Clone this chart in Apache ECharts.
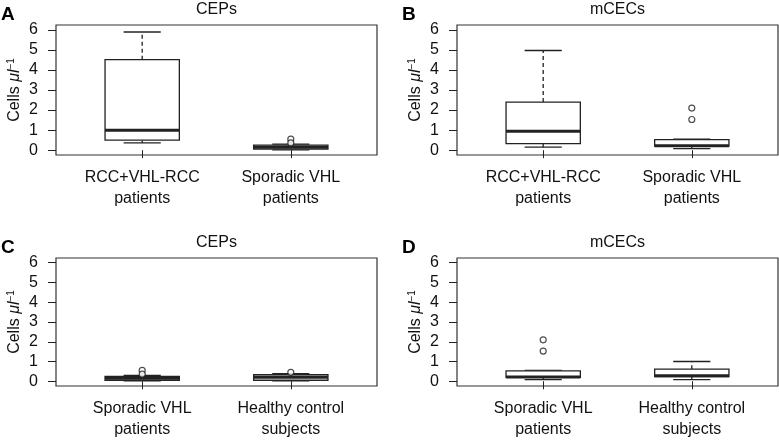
<!DOCTYPE html>
<html>
<head>
<meta charset="utf-8">
<script src="https://cdn.jsdelivr.net/npm/echarts@6/dist/echarts.min.js"></script>
<style>
  html, body { margin: 0; padding: 0; background: #fff; }
  #chart { width: 779px; height: 440px; }
</style>
</head>
<body>
<div id="chart"></div>
<script>
// category labels
const catsTop = ['RCC+VHL-RCC\npatients', 'Sporadic VHL\npatients']
const catsBottom = ['Sporadic VHL\npatients', 'Healthy control\nsubjects']

// box stats: [lower whisker, Q1, median, Q3, upper whisker]
const cepsPatients = [[0.36, 0.5, 0.99, 4.51, 5.89], [0.02, 0.05, 0.15, 0.25, 0.3]]
const mcecsPatients = [[0.15, 0.33, 0.95, 2.4, 4.97], [0.08, 0.2, 0.22, 0.53, 0.55]]
const cepsControl = [[0.02, 0.05, 0.15, 0.25, 0.3], [0.02, 0.05, 0.2, 0.33, 0.38]]
const mcecsControl = [[0.08, 0.2, 0.22, 0.53, 0.55], [0.08, 0.23, 0.28, 0.61, 1.0]]

// outliers per group
const cepsPatientsOut = [[], [0.55, 0.36]]
const mcecsPatientsOut = [[], [2.1, 1.53]]
const cepsControlOut = [[0.55, 0.36], [0.45]]
const mcecsControlOut = [[2.1, 1.53], []]

const yTicks = [0, 1, 2, 3, 4, 5, 6]

const panels = [
  { letter: 'A', title: 'CEPs', cats: catsTop, stats: cepsPatients, out: cepsPatientsOut, left: 56, top: 25, height: 130 },
  { letter: 'B', title: 'mCECs', cats: catsTop, stats: mcecsPatients, out: mcecsPatientsOut, left: 457, top: 25, height: 130 },
  { letter: 'C', title: 'CEPs', cats: catsBottom, stats: cepsControl, out: cepsControlOut, left: 56, top: 258, height: 131 },
  { letter: 'D', title: 'mCECs', cats: catsBottom, stats: mcecsControl, out: mcecsControlOut, left: 457, top: 258, height: 131 }
]

const FONT = 'Liberation Sans, Arial, Helvetica, sans-serif'
const INK = '#222'
const plotW = 321

const chart = echarts.init(document.getElementById('chart'))

// draws one box with whiskers
const renderBox = (params, api) => {
  const x = api.value(0)
  const lo = api.coord([x, api.value(1)])
  const q1 = api.coord([x, api.value(2)])
  const med = api.coord([x, api.value(3)])
  const q3 = api.coord([x, api.value(4)])
  const hi = api.coord([x, api.value(5)])
  const halfW = api.size([0.25, 0])[0]
  const capW = halfW / 2
  const cx = med[0]
  const line = (x1, y1, x2, y2, extra) => ({
    type: 'line',
    shape: { x1, y1, x2, y2 },
    style: Object.assign({ stroke: INK, lineWidth: 1.3 }, extra || {})
  })
  return {
    type: 'group',
    children: [
      line(cx, q3[1], cx, hi[1], { lineDash: [4, 3] }),
      line(cx, q1[1], cx, lo[1], { lineDash: [4, 3] }),
      line(cx - capW, hi[1], cx + capW, hi[1]),
      line(cx - capW, lo[1], cx + capW, lo[1]),
      {
        type: 'rect',
        shape: { x: cx - halfW, y: q3[1], width: halfW * 2, height: q1[1] - q3[1] },
        style: { fill: '#fff', stroke: INK, lineWidth: 1.3 }
      },
      line(cx - halfW, med[1], cx + halfW, med[1], { lineWidth: 3 })
    ]
  }
}

const grid = [], xAxis = [], yAxis = [], series = [], graphic = []

panels.forEach((p, i) => {
  grid.push({
    left: p.left, top: p.top, width: plotW, height: p.height,
    show: true, borderColor: '#333', borderWidth: 1.2
  })
  xAxis.push({
    type: 'value', gridIndex: i, min: 0.42, max: 2.58,
    axisLine: { show: false },
    splitLine: { show: false },
    axisTick: { show: true, length: 8, customValues: [1, 2], lineStyle: { color: INK } },
    axisLabel: {
      customValues: [1, 2], margin: 12, color: '#111', fontSize: 16, lineHeight: 21,
      fontFamily: FONT,
      formatter: (v) => p.cats[Math.round(v) - 1]
    }
  })
  yAxis.push({
    type: 'value', gridIndex: i, min: -0.24, max: 6.24,
    name: 'Cells {i|μl}{s|\u22121}',
    nameLocation: 'middle', nameGap: 32,
    nameTextStyle: {
      color: '#111', fontSize: 16, fontFamily: FONT,
      rich: {
        i: { fontSize: 16, fontStyle: 'italic', fontFamily: FONT, color: '#111' },
        s: { fontSize: 10, fontFamily: FONT, color: '#111', verticalAlign: 'top', padding: [0, 0, 8, 0] }
      }
    },
    axisLine: { show: false },
    splitLine: { show: false },
    axisTick: { show: true, length: 8, customValues: yTicks, lineStyle: { color: INK } },
    axisLabel: { customValues: yTicks, margin: 18, color: '#111', fontSize: 16, fontFamily: FONT }
  })
  series.push({
    type: 'custom',
    xAxisIndex: i, yAxisIndex: i,
    renderItem: renderBox,
    data: p.stats.map((s, k) => [k + 1].concat(s)),
    z: 2
  })
  const outPts = []
  p.out.forEach((vals, k) => vals.forEach(v => outPts.push([k + 1, v])))
  series.push({
    type: 'scatter',
    xAxisIndex: i, yAxisIndex: i,
    symbol: 'circle', symbolSize: 6,
    itemStyle: { color: '#fff', borderColor: INK, borderWidth: 1.2 },
    data: outPts,
    z: 3
  })
  // panel letter and title
  graphic.push({
    type: 'text', left: p.left - 55, top: p.top - 20,
    style: { text: p.letter, font: 'bold 19px ' + FONT, fill: '#000' }
  })
  graphic.push({
    type: 'text', x: p.left + plotW / 2, y: p.top - 15,
    style: { text: p.title, font: '16px ' + FONT, fill: '#111', textAlign: 'center', textVerticalAlign: 'middle' }
  })
})

chart.setOption({
  animation: false,
  backgroundColor: '#fff',
  grid, xAxis, yAxis, series, graphic
})
</script>
</body>
</html>
